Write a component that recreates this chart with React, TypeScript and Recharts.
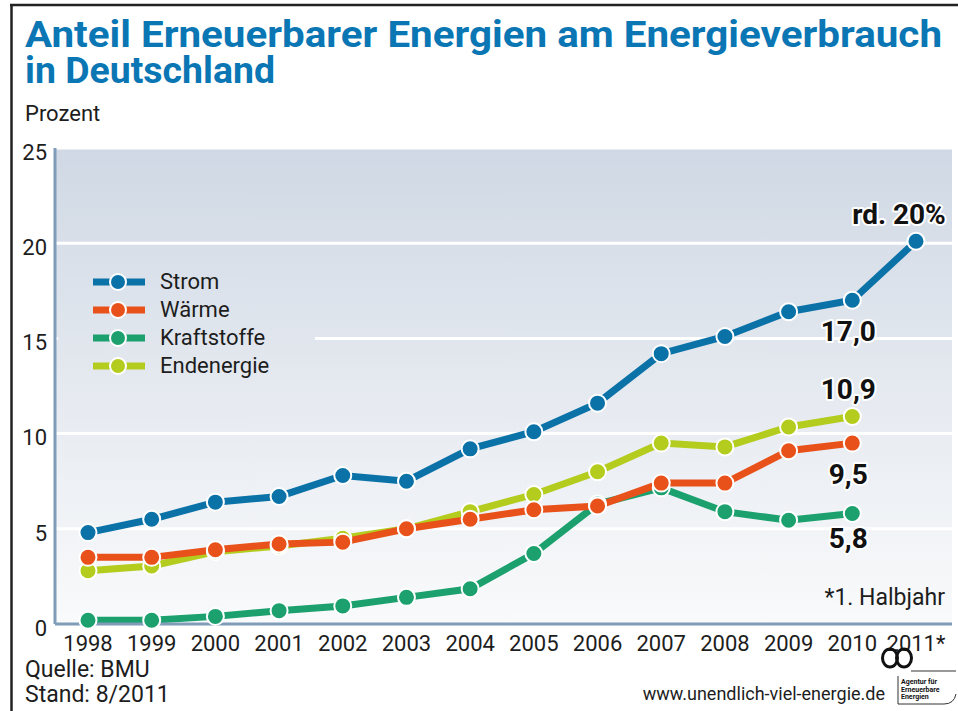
import React from "react";
import {
  LineChart,
  Line,
  XAxis,
  YAxis,
  CartesianGrid,
  Legend,
  LabelList,
} from "recharts";

const YEARS = [
  "1998", "1999", "2000", "2001", "2002", "2003", "2004",
  "2005", "2006", "2007", "2008", "2009", "2010", "2011*",
];
const STROM = [4.8, 5.5, 6.4, 6.7, 7.8, 7.5, 9.2, 10.1, 11.6, 14.2, 15.1, 16.4, 17.0, 20.1];
const WAERME = [3.5, 3.5, 3.9, 4.2, 4.3, 5.0, 5.5, 6.0, 6.2, 7.4, 7.4, 9.1, 9.5, null];
const KRAFTSTOFFE = [0.2, 0.2, 0.4, 0.7, 0.95, 1.4, 1.85, 3.7, 6.3, 7.15, 5.9, 5.45, 5.8, null];
const ENDENERGIE = [2.8, 3.05, 3.8, 4.1, 4.5, 5.0, 5.9, 6.8, 8.0, 9.5, 9.3, 10.35, 10.9, null];
const Y_TICKS = [0, 5, 10, 15, 20, 25];

const LEGEND_ORDER = ["Strom", "Wärme", "Kraftstoffe", "Endenergie"];

// end-of-line callouts
const CALLOUTS: Record<string, { index: number; text: string; dx: number; dy: number }[]> = {
  strom: [
    { index: 12, text: "17,0", dx: -4, dy: 41 },
    { index: 13, text: "rd. 20%", dx: -17, dy: -17 },
  ],
  endenergie: [{ index: 12, text: "10,9", dx: -4, dy: -17 }],
  waerme: [{ index: 12, text: "9,5", dx: -4, dy: 41 }],
  kraftstoffe: [{ index: 12, text: "5,8", dx: -4, dy: 34 }],
};

// drawing order: later series sit on top
const SERIES = [
  { key: "kraftstoffe", name: "Kraftstoffe", color: "#1ba06e" },
  { key: "endenergie", name: "Endenergie", color: "#b4cc1e" },
  { key: "waerme", name: "Wärme", color: "#e8521a" },
  { key: "strom", name: "Strom", color: "#0b72a8" },
];

const data = YEARS.map((year, i) => ({
  year,
  strom: STROM[i],
  waerme: WAERME[i],
  kraftstoffe: KRAFTSTOFFE[i],
  endenergie: ENDENERGIE[i],
}));

const FONT = "Roboto, 'DejaVu Sans', sans-serif";
const TEXT_COLOR = "#1d1d1d";
const BG_STOPS = "#cfd8e4 0%, #e7ebf1 55%, #f9fafb 100%";

const makeCallout = (key: string) => (props: any) => {
  const { x, y, index } = props;
  const c = (CALLOUTS[key] || []).find((d) => d.index === index);
  if (!c || x == null || y == null) return null;
  return (
    <text
      x={x + c.dx}
      y={y + c.dy}
      textAnchor="middle"
      fontFamily={FONT}
      fontWeight={700}
      fontSize={28}
      fill="#111"
      stroke="#fff"
      strokeWidth={4}
      strokeLinejoin="round"
      paintOrder="stroke"
    >
      {c.text}
    </text>
  );
};

const LegendContent = (props: any) => {
  const payload: any[] = props.payload ?? [];
  const items = LEGEND_ORDER.map((n) => payload.find((p) => p.value === n)).filter(Boolean);
  return (
    <div
      style={{
        width: 257,
        height: 112,
        background: `linear-gradient(${BG_STOPS})`,
        backgroundSize: "100% 476px",
        backgroundPosition: "0 -120px",
      }}
    >
      {items.map((item: any) => (
        <div
          key={item.value}
          style={{ height: 28, display: "flex", alignItems: "center", paddingLeft: 35 }}
        >
          <svg width={52} height={20} style={{ display: "block" }}>
            <rect x={0} y={6.5} width={52} height={7} fill={item.color} />
            <circle cx={25} cy={10} r={8} fill={item.color} stroke="#fff" strokeWidth={2} />
          </svg>
          <span
            style={{
              marginLeft: 15,
              fontFamily: FONT,
              fontSize: 22,
              color: TEXT_COLOR,
              lineHeight: "28px",
            }}
          >
            {item.value}
          </span>
        </div>
      ))}
    </div>
  );
};

export default function App() {
  return (
    <div
      style={{
        position: "absolute",
        top: 0,
        left: 0,
        width: 958,
        height: 711,
        background: "#fff",
        overflow: "hidden",
      }}
    >
      <svg width={0} height={0} style={{ position: "absolute" }}>
        <defs>
          <linearGradient id="plotBg" x1="0" y1="0" x2="0" y2="1">
            <stop offset="0%" stopColor="#cfd8e4" />
            <stop offset="55%" stopColor="#e7ebf1" />
            <stop offset="100%" stopColor="#f9fafb" />
          </linearGradient>
        </defs>
      </svg>

      <LineChart
        width={958}
        height={711}
        data={data}
        margin={{ top: 148, right: 6, bottom: 57, left: 15 }}
      >
        <CartesianGrid
          vertical={false}
          stroke="#ffffff"
          strokeWidth={3}
          fill="url(#plotBg)"
          fillOpacity={1}
        />
        <XAxis
          dataKey="year"
          height={30}
          padding={{ left: 33, right: 36 }}
          axisLine={{ stroke: "#7f9cb8", strokeWidth: 3 }}
          tickLine={false}
          tickSize={0}
          tickMargin={11}
          interval={0}
          tick={{ fontSize: 22, fill: TEXT_COLOR, fontFamily: FONT }}
        />
        <YAxis
          width={40}
          domain={[0, 25]}
          ticks={Y_TICKS}
          interval={0}
          axisLine={{ stroke: "#7f9cb8", strokeWidth: 3 }}
          tickLine={false}
          tickSize={0}
          tickMargin={8}
          tick={{ fontSize: 22, fill: TEXT_COLOR, fontFamily: FONT, dy: 4 }}
        />
        <Legend
          layout="vertical"
          align="center"
          verticalAlign="middle"
          wrapperStyle={{ left: 58, top: 268, width: 257, height: 112 }}
          content={<LegendContent />}
        />
        {SERIES.map((s) => (
          <Line
            key={s.key}
            type="linear"
            dataKey={s.key}
            name={s.name}
            stroke={s.color}
            strokeWidth={7}
            dot={{ r: 8.5, fill: s.color, stroke: "#fff", strokeWidth: 2 }}
            activeDot={false}
            isAnimationActive={false}
          >
            <LabelList dataKey={s.key} content={makeCallout(s.key)} />
          </Line>
        ))}
      </LineChart>

      <svg
        width={958}
        height={711}
        style={{ position: "absolute", top: 0, left: 0, pointerEvents: "none" }}
      >
        {/* frame */}
        <line x1={11.5} y1={5} x2={11.5} y2={711} stroke="#222" strokeWidth={2.5} />
        <line x1={10} y1={5} x2={958} y2={5} stroke="#222" strokeWidth={2.5} />

        <text fontFamily={FONT} fontWeight={700} fontSize={36} fill="#0a76b4">
          <tspan x={25} y={47} textLength={917} lengthAdjust="spacingAndGlyphs">
            Anteil Erneuerbarer Energien am Energieverbrauch
          </tspan>
          <tspan x={25} y={83} textLength={250} lengthAdjust="spacingAndGlyphs">
            in Deutschland
          </tspan>
        </text>
        <text x={25} y={121} fontFamily={FONT} fontSize={22} fill={TEXT_COLOR}>
          Prozent
        </text>
        <text x={945} y={605} textAnchor="end" fontFamily={FONT} fontSize={23} fill={TEXT_COLOR}>
          *1. Halbjahr
        </text>
        <text x={25} y={677} fontFamily={FONT} fontSize={23} fill={TEXT_COLOR}>
          Quelle: BMU
        </text>
        <text x={25} y={702} fontFamily={FONT} fontSize={23} fill={TEXT_COLOR}>
          Stand: 8/2011
        </text>
        <text x={885} y={700} textAnchor="end" fontFamily={FONT} fontSize={18} fill={TEXT_COLOR}>
          www.unendlich-viel-energie.de
        </text>

        {/* logo */}
        <ellipse cx={890} cy={658} rx={7.5} ry={9} fill="none" stroke="#111" strokeWidth={3} />
        <ellipse cx={904} cy={658} rx={7.5} ry={9} fill="none" stroke="#111" strokeWidth={3} />
        <path
          d="M 911 671 H 956 M 898 676 V 704 H 944 Q 954 704 956 694"
          fill="none"
          stroke="#333"
          strokeWidth={1}
        />
        <text x={901} y={684} fontFamily={FONT} fontWeight={700} fontSize={7} fill="#111">
          Agentur für
        </text>
        <text x={901} y={691.5} fontFamily={FONT} fontWeight={700} fontSize={7} fill="#111">
          Erneuerbare
        </text>
        <text x={901} y={699} fontFamily={FONT} fontWeight={700} fontSize={7} fill="#111">
          Energien
        </text>
      </svg>
    </div>
  );
}
